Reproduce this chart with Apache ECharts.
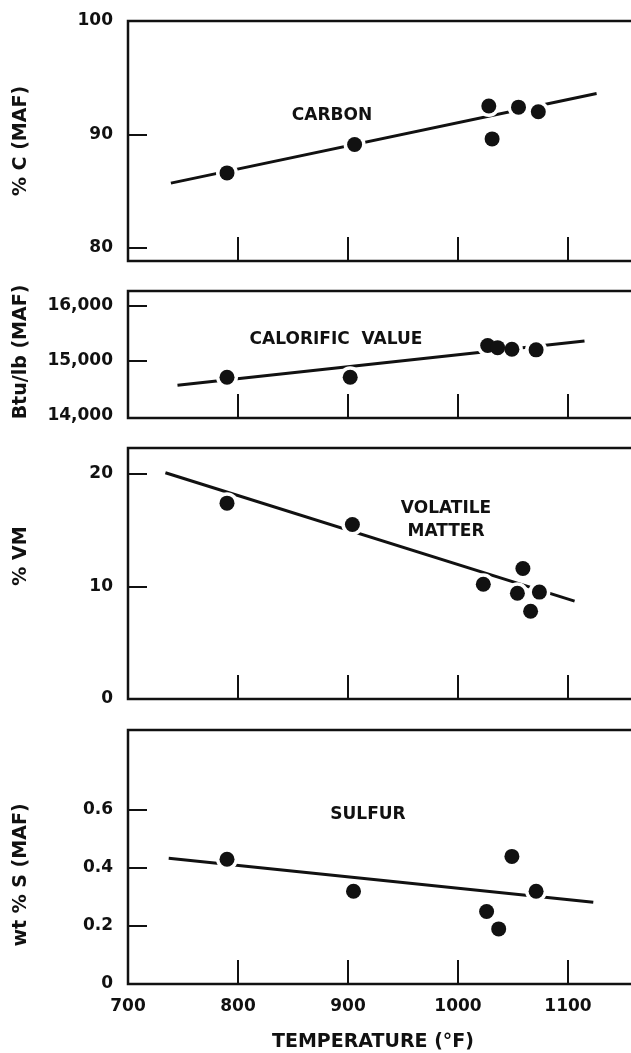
<!DOCTYPE html>
<html>
<head>
<meta charset="utf-8">
<style>
  html, body { margin: 0; padding: 0; background: #fff; }
  #chart { width: 631px; height: 1053px; }
</style>
<script src="https://cdn.jsdelivr.net/npm/echarts@6/dist/echarts.min.js"></script>
</head>
<body>
<div id="chart"></div>
<script>
// Temperature axis (°F), shared by all four panels
const tempTicks = [800, 900, 1000, 1100];
const tempLabels = [700, 800, 900, 1000, 1100];

// Carbon, % C (MAF)
const carbonTemp = [790, 906, 1028, 1031, 1055, 1073];
const carbonPct = [86.6, 89.1, 92.5, 89.6, 92.4, 92.0];
const carbonFitTemp = [739, 1126];
const carbonFitPct = [85.7, 93.6];
const carbonTicks = [80, 90];
const carbonLabels = [80, 90, 100];

// Calorific value, Btu/lb (MAF)
const btuTemp = [790, 902, 1027, 1036, 1049, 1071];
const btuValue = [14700, 14700, 15280, 15240, 15210, 15200];
const btuFitTemp = [745, 1115];
const btuFitValue = [14555, 15360];
const btuTicks = [15000, 16000];
const btuLabels = [14000, 15000, 16000];

// Volatile matter, % VM
const vmTemp = [790, 904, 1023, 1059, 1054, 1074, 1066];
const vmPct = [17.4, 15.5, 10.2, 11.6, 9.4, 9.5, 7.8];
const vmFitTemp = [734, 1106];
const vmFitPct = [20.1, 8.7];
const vmTicks = [10, 20];
const vmLabels = [0, 10, 20];

// Sulfur, wt % S (MAF)
const sTemp = [790, 905, 1049, 1071, 1026, 1037];
const sPct = [0.43, 0.32, 0.44, 0.32, 0.25, 0.19];
const sFitTemp = [737, 1123];
const sFitPct = [0.434, 0.282];
const sTicks = [0.2, 0.4, 0.6];
const sLabels = [0, 0.2, 0.4, 0.6];

const INK = '#111';
const FONT = 'DejaVu Sans';

const panels = [
  { temp: carbonTemp, val: carbonPct, fitT: carbonFitTemp, fitV: carbonFitPct,
    ticks: carbonTicks, labels: carbonLabels, min: 78.83, max: 100,
    grid: { top: 21, height: 240 }, fmt: v => String(v) },
  { temp: btuTemp, val: btuValue, fitT: btuFitTemp, fitV: btuFitValue,
    ticks: btuTicks, labels: btuLabels, min: 13960, max: 16270,
    grid: { top: 291, height: 127 }, fmt: v => Number(v).toLocaleString('en-US') },
  { temp: vmTemp, val: vmPct, fitT: vmFitTemp, fitV: vmFitPct,
    ticks: vmTicks, labels: vmLabels, min: 0, max: 22.3,
    grid: { top: 448, height: 251 }, fmt: v => String(v) },
  { temp: sTemp, val: sPct, fitT: sFitTemp, fitV: sFitPct,
    ticks: sTicks, labels: sLabels, min: 0, max: 0.876,
    grid: { top: 730, height: 254 }, fmt: v => (Number(v) === 0 ? '0' : Number(v).toFixed(1)) }
];

const zip = (a, b) => a.map((x, i) => [x, b[i]]);

const grid = [], xAxis = [], yAxis = [], series = [];
panels.forEach((p, i) => {
  const last = i === panels.length - 1;
  // the frame runs on past the right edge of the page
  grid.push({ left: 128, width: 550, top: p.grid.top, height: p.grid.height,
    outerBoundsMode: 'none', containLabel: false,
    show: true, borderColor: INK, borderWidth: 2.5, backgroundColor: 'transparent' });
  xAxis.push({
    gridIndex: i, type: 'value', min: 700, max: 1200, interval: 100,
    axisLine: { show: false }, splitLine: { show: false },
    axisTick: { show: true, inside: true, length: 24, customValues: tempTicks,
      lineStyle: { color: INK, width: 2 } },
    axisLabel: { show: last, customValues: tempLabels, margin: 14, formatter: v => String(v),
      fontFamily: FONT, fontWeight: 'bold', fontSize: 17, color: INK }
  });
  yAxis.push({
    gridIndex: i, type: 'value', min: p.min, max: p.max,
    axisLine: { show: false }, splitLine: { show: false },
    axisTick: { show: true, inside: true, length: 19, customValues: p.ticks,
      lineStyle: { color: INK, width: 2 } },
    axisLabel: { customValues: p.labels, margin: 15, formatter: p.fmt,
      fontFamily: FONT, fontWeight: 'bold', fontSize: 17, color: INK }
  });
  series.push({
    type: 'line', xAxisIndex: i, yAxisIndex: i, z: 2,
    data: zip(p.fitT, p.fitV), symbol: 'none', silent: true,
    lineStyle: { color: INK, width: 3 }
  });
  // white halo breaks the fitted line around each sample
  series.push({
    type: 'scatter', xAxisIndex: i, yAxisIndex: i, z: 3, silent: true,
    data: zip(p.temp, p.val), symbolSize: 22, itemStyle: { color: '#fff', opacity: 1 }
  });
  series.push({
    type: 'scatter', xAxisIndex: i, yAxisIndex: i, z: 4, silent: true,
    data: zip(p.temp, p.val), symbolSize: 15, itemStyle: { color: INK, opacity: 1 }
  });
});

const textStyle = (size) => ({
  fill: INK, font: 'bold ' + size + 'px "' + FONT + '"',
  align: 'center', verticalAlign: 'middle'
});
const label = (text, x, y, size) => ({ type: 'text', x, y, z: 10, silent: true,
  style: Object.assign({ text }, textStyle(size)) });
const vLabel = (text, x, y) => ({ type: 'text', x, y, rotation: Math.PI / 2, z: 10, silent: true,
  style: Object.assign({ text }, textStyle(19)) });

const graphic = [
  label('CARBON', 332, 116, 17),
  label('CALORIFIC  VALUE', 336, 340, 17),
  label('VOLATILE', 446, 509, 17),
  label('MATTER', 446, 532, 17),
  label('SULFUR', 368, 815, 17),
  label('TEMPERATURE (°F)', 373, 1042, 19),
  vLabel('% C (MAF)', 21, 141),
  vLabel('Btu/lb (MAF)', 21, 352),
  vLabel('% VM', 21, 556),
  vLabel('wt % S (MAF)', 21, 875)
];

const chart = echarts.init(document.getElementById('chart'), null, { renderer: 'canvas' });
chart.setOption({
  animation: false,
  backgroundColor: '#fff',
  grid, xAxis, yAxis, series, graphic
});
</script>
</body>
</html>
